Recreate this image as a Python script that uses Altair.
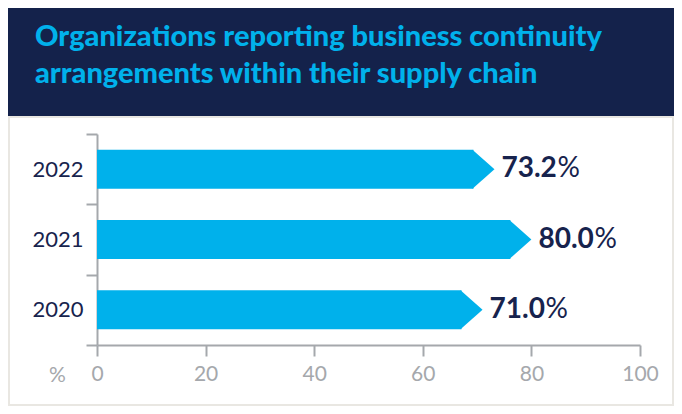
import altair as alt
import pandas as pd

# ---- data ----
years = ["2022", "2021", "2020"]
values = [73.2, 80.0, 71.0]
value_labels = ["73.2", "80.0", "71.0"]
x_ticks = [0, 20, 40, 60, 80, 100]
title_lines = ["Organizations reporting business continuity",
               "arrangements within their supply chain"]

NAVY = "#14224b"
CYAN = "#00b1eb"
TEXT_NAVY = "#17234d"
GREY = "#a5a8ac"
FONT = "Lato"

W, H = 543, 211

df = pd.DataFrame({"year": years, "value": values, "label": value_labels})

xscale = alt.Scale(domain=[0, 100], nice=False, zero=True)
yscale = alt.Scale(domain=years, paddingInner=0, paddingOuter=0)

base = alt.Chart(df)

# header band and card frame (decoration)
header = alt.Chart(pd.DataFrame({"k": [0]})).mark_rect(color=NAVY).encode(
    x=alt.value(-89), x2=alt.value(577), y=alt.value(-126), y2=alt.value(-16)
)
frame = alt.Chart(pd.DataFrame({"k": [0]})).mark_rect(
    fill="transparent", stroke="#e9e7e2", strokeWidth=2
).encode(
    x=alt.value(-88), x2=alt.value(576), y=alt.value(-17), y2=alt.value(271)
)
title = alt.Chart(pd.DataFrame({"t": ["\n".join(title_lines)]})).mark_text(
    align="left", baseline="alphabetic", lineBreak="\n", lineHeight=37,
    font=FONT, fontSize=29, fontWeight=900, color=CYAN
).encode(x=alt.value(-62), y=alt.value(-88), text="t:N")

bars = base.mark_bar(size=39, color=CYAN, x2Offset=-21).encode(
    x=alt.X("zero:Q", scale=xscale,
            axis=alt.Axis(values=x_ticks, grid=False, tickSize=11, tickWidth=2,
                          tickColor=GREY, domainColor=GREY, domainWidth=2,
                          labelColor=GREY, labelFont=FONT, labelFontSize=21,
                          labelPadding=7, labelFlush=False,
                          title="%", titleX=-40, titleY=30, titleAngle=0,
                          titleBaseline="middle", titleAlign="center",
                          titleFont=FONT, titleFontSize=21,
                          titleFontWeight="normal", titleColor=GREY)),
    x2="value:Q",
    y=alt.Y("year:N", scale=yscale, sort=years,
            axis=alt.Axis(title=None, tickBand="extent", tickSize=11,
                          tickWidth=2, tickColor=GREY, domainColor=GREY,
                          domainWidth=2, labelColor=TEXT_NAVY, labelFont=FONT,
                          labelFontSize=22, labelPadding=3)),
).transform_calculate(zero="0")

arrows = base.mark_point(
    shape="M-0.564,-1L0.564,0L-0.564,1Z", size=39 * 39, filled=True,
    opacity=1, color=CYAN, strokeWidth=0, xOffset=-11
).encode(
    x=alt.X("value:Q", scale=xscale),
    y=alt.Y("year:N", scale=yscale, sort=years),
)

nums = base.mark_text(
    align="left", baseline="middle", dx=7, font=FONT, fontSize=28,
    fontWeight="bold", color=TEXT_NAVY
).encode(
    x=alt.X("value:Q", scale=xscale),
    y=alt.Y("year:N", scale=yscale, sort=years),
    text="label:N",
)

pct = base.mark_text(
    align="left", baseline="middle", dx=7 + 56, font=FONT, fontSize=28,
    fontWeight="normal", color=TEXT_NAVY
).encode(
    x=alt.X("value:Q", scale=xscale),
    y=alt.Y("year:N", scale=yscale, sort=years),
    text=alt.value("%"),
)

chart = alt.layer(header, frame, title, bars, arrows, nums, pct).properties(
    width=W, height=H, padding=0, background="white"
).configure_view(stroke=None)

chart.save("out.html", embed_options={"renderer": "svg", "actions": False})
